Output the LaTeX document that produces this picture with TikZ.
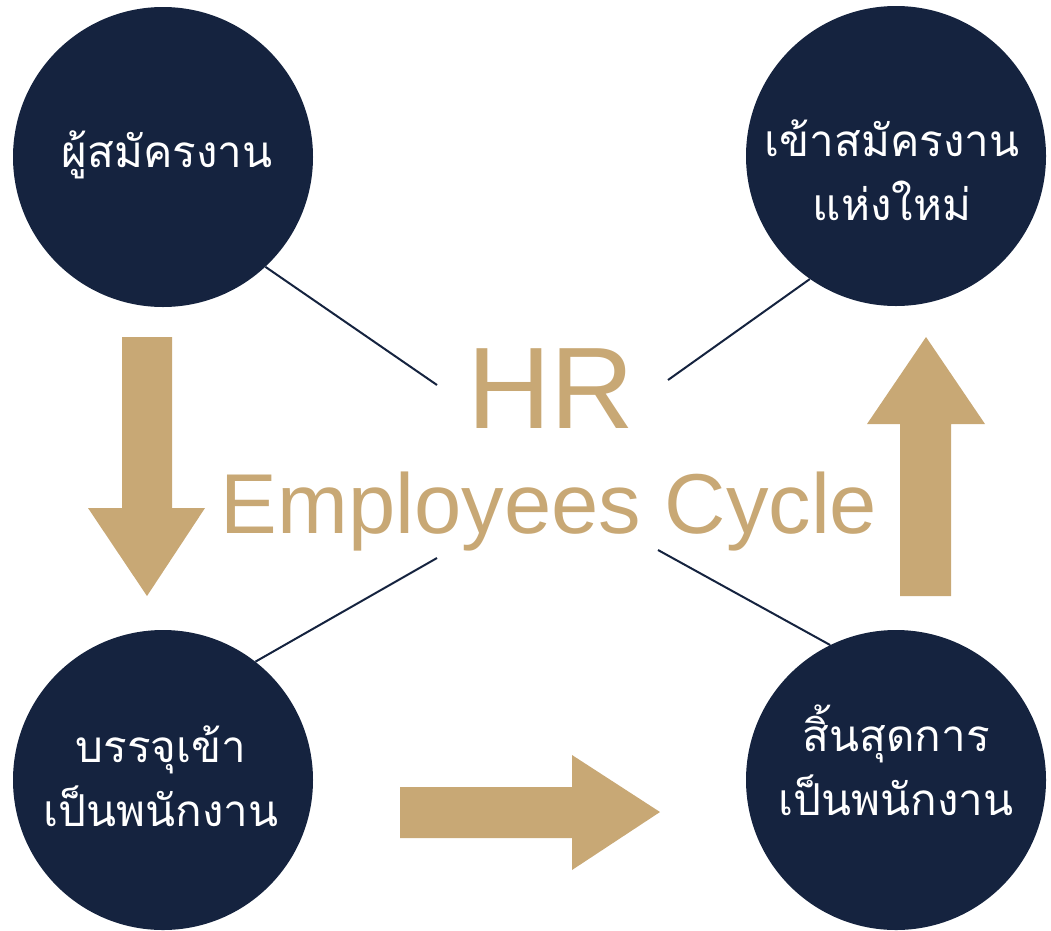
\documentclass[tikz,border=0pt]{standalone}
\usepackage{fontspec}
\newfontfamily\thaifont[Script=Thai]{Loma}
\newfontfamily\hrfont{Liberation Sans}
\definecolor{hrnavy}{RGB}{21,35,63}
\definecolor{hrgold}{RGB}{200,168,117}
\tikzstyle{navynode}=[circle, fill=hrnavy, minimum size=300, inner sep=0]
\tikzstyle{thaitext}=[text=white, anchor=base, align=center, font=\thaifont\fontsize{44}{64}\selectfont]
\tikzstyle{navyline}=[hrnavy, line width=2]
\tikzstyle{goldarrow}=[fill=hrgold]

\begin{document}
\begin{tikzpicture}[x=1pt, y=-1pt]
  \useasboundingbox (0,0) rectangle (1051,930);
  % the four stages
  \node[navynode] (applicant) at (163,157) {};
  \node[navynode] (newjob) at (896,156) {};
  \node[navynode] (hired) at (163,780) {};
  \node[navynode] (leaving) at (896,780) {};
  \node[thaitext] (applicanttext) at (167,167) {ผู้สมัครงาน};
  \node[thaitext] (newjobtext) at (892,220) {เข้าสมัครงาน\\แห่งใหม่};
  \node[thaitext] (hiredtext) at (161,826) {บรรจุเข้า\\เป็นพนักงาน};
  \node[thaitext] (leavingtext) at (896,815) {สิ้นสุดการ\\เป็นพนักงาน};
  % title in the middle
  \node[text=hrgold, anchor=base, font=\hrfont\fontsize{116}{116}\selectfont] (hr) at (551,428) {HR};
  \node[text=hrgold, anchor=base, font=\hrfont\fontsize{85}{85}\selectfont] (cycle) at (549,533) {Employees Cycle};
  % spokes
  \coordinate (s1) at (437,385);
  \coordinate (s2) at (668,380);
  \coordinate (s3) at (437,558);
  \coordinate (s4) at (658,550);
  \draw[navyline] (s1) -- (applicant.-47);
  \draw[navyline] (s2) -- (newjob.235);
  \draw[navyline] (s3) -- (hired.52);
  \draw[navyline] (s4) -- (leaving.116);
  % arrows
  \fill[goldarrow] (122,337) -- (172,337) -- (172,508) -- (205,508) -- (147,596) -- (88,508) -- (122,508) -- cycle;
  \fill[goldarrow] (400,787) -- (572,787) -- (572,755) -- (660,812) -- (572,870) -- (572,838) -- (400,838) -- cycle;
  \fill[goldarrow] (900,596) -- (951,596) -- (951,424) -- (985,424) -- (926,337) -- (867,424) -- (900,424) -- cycle;
\end{tikzpicture}
\end{document}
